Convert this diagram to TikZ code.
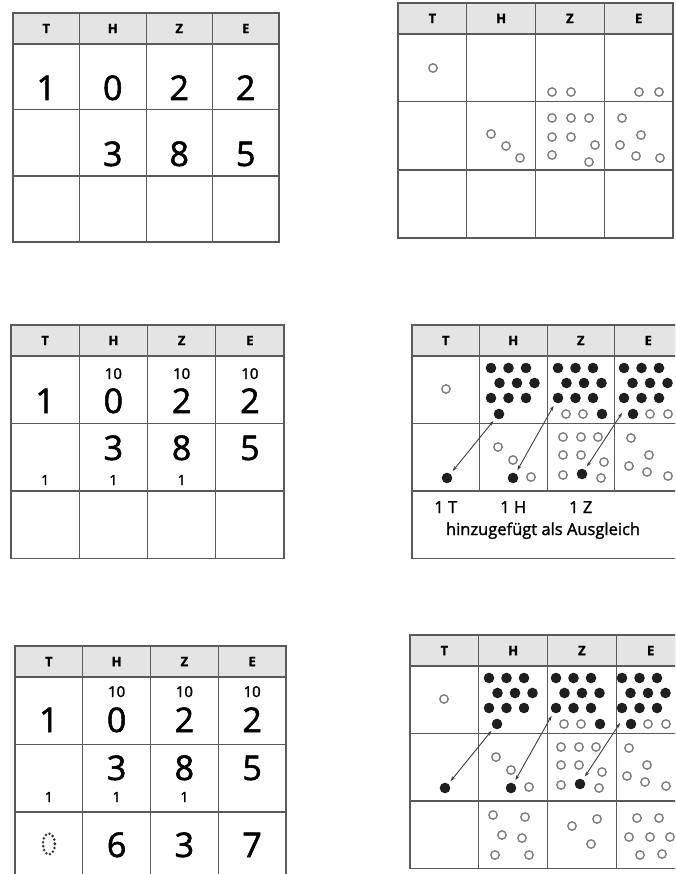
\documentclass[tikz,border=0pt]{standalone}
\usepackage{fontspec}
\setmainfont{Open Sans}[FakeBold=1.6]
\usepackage{tikz}
\usetikzlibrary{arrows.meta}
\definecolor{rulegray}{HTML}{5A5A5A}
\definecolor{headgray}{HTML}{E4E4E4}
\definecolor{dotgray}{HTML}{7E7E7E}

\def\colw{68}
\def\rowh{67}
% one place-value table: #1,#2 top left corner, #3 name, #4 = 1 rules the last row
\newcommand\placetable[4]{%
  \begin{scope}[shift={(#1,#2)}]
    \fill[headgray] (0,0) rectangle (4*\colw,31);
    \foreach \c in {1,2,3} {
      \draw[rulegray, line width=1pt] (\c*\colw,0) -- (\c*\colw,31+2*\rowh);}
    \ifnum#4=1
      \foreach \c in {1,2,3} {
        \draw[rulegray, line width=1pt] (\c*\colw,31+2*\rowh) -- (\c*\colw,31+3*\rowh);}
    \fi
    \draw[rulegray, line width=1pt] (0,31+\rowh) -- (4*\colw,31+\rowh);
    \draw[rulegray, line width=2pt] (0,31) -- (4*\colw,31);
    \draw[rulegray, line width=2pt] (0,31+2*\rowh) -- (4*\colw,31+2*\rowh);
    \draw[rulegray, line width=1.4pt] (0,0) rectangle (4*\colw,31+3*\rowh);
    \foreach \c [count=\i] in {T,H,Z,E}
      \node[headtxt] (#3-\c) at ({(\i-0.5)*\colw},15.5) {\c};
  \end{scope}}

% dots of the exchange: ten black ones in H, Z, E and the three added ones
\newcommand\exchangedots[1]{%
  \draw[open] (34,64) circle (4.2);
  \foreach \x in {79,146,212} {
    \foreach \dx in {0,17.5,35} {
      \fill[full] (\x+\dx,43) circle (5.3);
      \fill[full] (\x+\dx,73) circle (5.3);}
    \foreach \dx in {8.5,26,43.5}
      \fill[full] (\x+\dx,58) circle (5.3);}
  \foreach \x in {87,190,221}
    \fill[full] (\x,89) circle (5.3);
  \foreach \x/\y in {154/89, 171/89, 238/89, 256/89,
      86/122, 101/135, 119/152,
      151/112, 169/112, 186/112, 151/130, 169/130, 192/137, 151/150, 189/153,
      219/113, 237/130, 217/141, 235/147, 256/151}
    \draw[open] (\x,\y) circle (4.2);
  \foreach \x/\y in {35/153, 101/153, 170/149}
    \fill[full] (\x,\y) circle (5.3);
  \coordinate (#1-hten) at (87,89);
  \coordinate (#1-tone) at (35,153);
  \coordinate (#1-zten) at (146,73);
  \coordinate (#1-hone) at (101,153);
  \coordinate (#1-eten) at (210,88);
  \coordinate (#1-zone) at (170,149);
  \draw[trade] (#1-hten) -- (#1-tone);
  \draw[trade] (#1-zten) -- (#1-hone);
  \draw[trade, shorten <=0pt] (#1-eten) -- (#1-zone);}

\begin{document}
\begin{tikzpicture}[x=1pt, y=-1pt,
    headtxt/.style={inner sep=0pt, font=\fontsize{13}{13}\selectfont\bfseries},
    digit/.style={anchor=base, inner sep=0pt, font=\fontsize{34}{34}\selectfont},
    smallnum/.style={anchor=base, inner sep=0pt, font=\fontsize{15}{15}\selectfont},
    note/.style={anchor=base, inner sep=0pt, font=\fontsize{16.5}{16.5}\selectfont},
    open/.style={draw=dotgray, line width=1.4pt},
    full/.style={fill=black!88},
    trade/.style={{Stealth[length=5pt,width=3.6pt]}-{Stealth[length=5pt,width=3.6pt]},
                  black!75, line width=0.9pt, shorten <=9pt, shorten >=9pt}]
  \useasboundingbox (0,0) rectangle (675,874);
  \clip (0,0) rectangle (675,874);
  \fill[white] (0,0) rectangle (675,874);

  % the sum as written
  \def\colw{66.5}\def\rowh{66}
  \placetable{13}{13}{p1}{1}
  \begin{scope}[shift={(13,13)}]
    \foreach \d [count=\i] in {1,0,2,2}
      \node[digit] (p1-a\i) at ({(\i-0.5)*\colw},87) {\d};
    \foreach \d [count=\i from 2] in {3,8,5}
      \node[digit] (p1-b\i) at ({(\i-0.5)*\colw},153) {\d};
  \end{scope}

  % the same with counters
  \def\colw{68.75}\def\rowh{68}
  \placetable{398}{3}{p2}{1}
  \begin{scope}[shift={(398,3)}]
    \foreach \x/\y in {35/65, 154/89, 173/89, 241/89, 261/89,
        93/131, 108/143, 122/155,
        154/115, 173/115, 191/115, 154/134, 173/134, 197/142, 154/152, 191/159,
        224/115, 243/132, 222/142, 238/153, 262/155}
      \draw[open] (\x,\y) circle (4.2);
  \end{scope}

  % tens added above, ones below
  \def\colw{68.25}\def\rowh{67.5}
  \placetable{11}{325}{p3}{1}
  \begin{scope}[shift={(11,325)}]
    \foreach \d [count=\i] in {1,0,2,2}
      \node[digit] (p3-a\i) at ({(\i-0.5)*\colw},88) {\d};
    \foreach \i in {2,3,4}
      \node[smallnum] (p3-t\i) at ({(\i-0.5)*\colw},54) {10};
    \foreach \d [count=\i from 2] in {3,8,5}
      \node[digit] (p3-b\i) at ({(\i-0.5)*\colw},135) {\d};
    \foreach \i in {1,2,3}
      \node[smallnum, font=\fontsize{14}{14}\selectfont] (p3-c\i) at ({(\i-0.5)*\colw},160) {1};
  \end{scope}

  \def\colw{67.5}\def\rowh{67.5}
  \placetable{412}{325}{p4}{0}
  \begin{scope}[shift={(412,325)}]
    \exchangedots{p4}
    \foreach \c [count=\i] in {T,H,Z}
      \node[note] (p4-n\i) at ({(\i-0.5)*\colw},188) {1 \c};
    \node[note] (p4-text) at (131,210) {hinzugefügt als Ausgleich};
  \end{scope}

  % the result
  \def\colw{67.75}\def\rowh{67.5}
  \placetable{15}{646}{p5}{1}
  \begin{scope}[shift={(15,646)}]
    \foreach \i in {2,3,4}
      \node[smallnum] (p5-t\i) at ({(\i-0.5)*\colw},51) {10};
    \foreach \d [count=\i] in {1,0,2,2}
      \node[digit] (p5-a\i) at ({(\i-0.5)*\colw},86) {\d};
    \foreach \d [count=\i from 2] in {3,8,5}
      \node[digit] (p5-b\i) at ({(\i-0.5)*\colw},134) {\d};
    \foreach \i in {1,2,3}
      \node[smallnum, font=\fontsize{14}{14}\selectfont] (p5-c\i) at ({(\i-0.5)*\colw},156) {1};
    \foreach \d [count=\i from 2] in {6,3,7}
      \node[digit] (p5-r\i) at ({(\i-0.5)*\colw},211) {\d};
    \draw[black!80, line width=2.8pt, line cap=round, dash pattern=on 0pt off 4pt]
      ({0.5*\colw},198) ellipse (6 and 10.5);
  \end{scope}

  \def\colw{68.75}\def\rowh{67.5}
  \placetable{410}{635}{p6}{1}
  \begin{scope}[shift={(410,635)}]
    \exchangedots{p6}
    \foreach \x/\y in {83/180, 115/182, 92/200, 112/203, 85/220, 119/220,
        162/191, 187/184, 181/209,
        227/183, 249/183, 219/202, 240/202, 260/202, 230/220, 252/219}
      \draw[open] (\x,\y) circle (4.2);
  \end{scope}
\end{tikzpicture}
\end{document}
